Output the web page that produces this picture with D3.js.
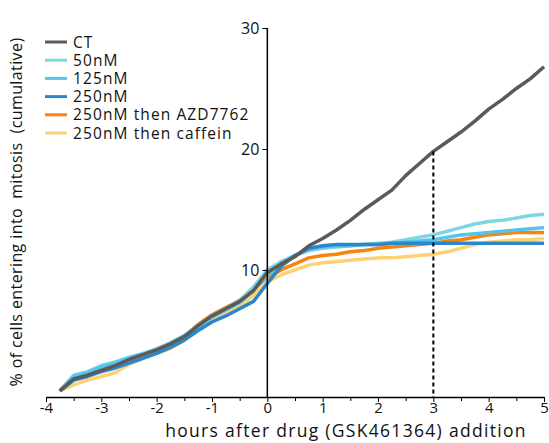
<!DOCTYPE html><html><head><meta charset="utf-8"><script src="https://cdn.jsdelivr.net/npm/d3@7"></script>
<style>body{margin:0;background:#fff}text{font-family:"Open Sans",sans-serif}</style></head><body>
<svg id="c" width="549" height="443"></svg>
<script>
const times=[-3.75,-3.5,-3.25,-3,-2.75,-2.5,-2.25,-2,-1.75,-1.5,-1.25,-1,-0.75,-0.5,-0.25,0,0.25,0.5,0.75,1,1.25,1.5,1.75,2,2.25,2.5,2.75,3,3.25,3.5,3.75,4,4.25,4.5,4.75,5];
const seriesNames=["CT","50nM","125nM","250nM","250nM then AZD7762","250nM then caffein"];
const colors=["#5a5a5a","#7fd6e3","#52c4ee","#2b86cb","#f7840f","#fdd274"];
const ct=[0,1.0,1.3,1.7,2.1,2.6,3.0,3.4,3.9,4.5,5.4,6.2,6.8,7.4,8.3,9.8,10.5,11.1,12.0,12.6,13.3,14.1,15.0,15.8,16.6,17.8,18.8,19.8,20.6,21.4,22.3,23.3,24.1,25.0,25.8,26.8];
const nm50=[0,1.3,1.6,2.1,2.4,2.8,3.1,3.5,4.0,4.6,5.4,6.2,6.8,7.5,8.6,10.0,10.7,11.2,11.6,11.8,11.9,12.0,12.1,12.2,12.3,12.5,12.7,12.9,13.2,13.5,13.8,14.0,14.1,14.3,14.5,14.6];
const nm125=[0,1.2,1.5,2.0,2.3,2.7,3.0,3.4,3.9,4.5,5.3,6.1,6.7,7.3,8.3,9.6,10.5,11.2,11.7,11.9,12.0,12.0,12.1,12.1,12.2,12.3,12.4,12.5,12.7,12.9,13.0,13.1,13.2,13.3,13.4,13.5];
const nm250=[0,0.9,1.2,1.6,1.9,2.3,2.7,3.1,3.6,4.2,5.0,5.7,6.2,6.8,7.4,8.9,10.3,11.2,11.8,12.0,12.1,12.1,12.1,12.1,12.2,12.2,12.2,12.2,12.2,12.2,12.2,12.2,12.2,12.2,12.2,12.2];
const azd=[0,1.0,1.3,1.7,2.2,2.6,3.0,3.4,3.9,4.5,5.5,6.3,6.9,7.5,8.4,9.4,10.0,10.5,11.0,11.2,11.3,11.5,11.6,11.8,11.9,12.0,12.1,12.2,12.4,12.5,12.7,12.9,13.0,13.1,13.1,13.1];
const caf=[0,0.5,0.9,1.2,1.5,2.2,2.7,3.1,3.5,4.2,5.2,5.9,6.4,7.0,7.9,9.0,9.6,10.0,10.4,10.6,10.7,10.8,10.9,11.0,11.0,11.1,11.2,11.3,11.5,11.8,12.1,12.3,12.4,12.5,12.5,12.6];
const xTicks=[-4,-3,-2,-1,0,1,2,3,4,5];
const yTicks=[10,20,30];
const allSeries=[ct,nm50,nm125,nm250,azd,caf];

const svg=d3.select("#c");
const x=d3.scaleLinear().domain([-4,5]).range([46,544]);
const y=d3.scaleLinear().domain([-0.5,30]).range([397,28]);
const line=d3.line().x((d,i)=>x(times[i])).y(d=>y(d)).curve(d3.curveLinear);
[5,4,1,2,3,0].forEach(k=>{
 svg.append("path").datum(allSeries[k]).attr("d",line).attr("fill","none").attr("stroke",colors[k]).attr("stroke-width",3.5).attr("stroke-linejoin","round");
});
svg.append("line").attr("x1",x(3)).attr("x2",x(3)).attr("y1",y(19.8)).attr("y2",y(-0.5)).attr("stroke","#000").attr("stroke-width",2).attr("stroke-dasharray","4,3");
const xa=svg.append("g").attr("transform",`translate(0,${y(-0.5)})`).call(d3.axisBottom(x).tickValues(xTicks).tickSize(5).tickSizeOuter(0).tickFormat(d=>d<0?"-"+(-d):String(d)));
xa.select(".domain").attr("stroke-width",1.5);
xa.selectAll("text").attr("font-size",15).attr("fill","#111").attr("dy","0.55em");
svg.append("g").attr("transform",`translate(0,${y(-0.5)})`).call(d3.axisBottom(x).tickValues(d3.range(-3.5,5,1)).tickSize(4).tickFormat("")).select(".domain").remove();
const ya=svg.append("g").attr("transform",`translate(${x(0)},0)`).call(d3.axisLeft(y).tickValues(yTicks).tickSize(5).tickSizeOuter(0));
ya.select(".domain").attr("stroke-width",1.5).attr("d",`M0,${y(30)}V${y(-0.5)}`);
ya.selectAll("text").attr("font-size",16).attr("fill","#111");
svg.append("text").attr("x",346).attr("y",437).attr("text-anchor","middle").attr("font-size",17.5).attr("letter-spacing",1.3).attr("fill","#111").text("hours after drug (GSK461364) addition");
svg.append("text").attr("transform","translate(22,212) rotate(-90)").attr("text-anchor","middle").attr("font-size",16).attr("letter-spacing",0.4).attr("fill","#111").style("white-space","pre").text("% of cells entering into  mitosis  (cumulative)");
seriesNames.forEach((n,i)=>{
 const yy=42+i*18.2;
 svg.append("line").attr("x1",45).attr("x2",67).attr("y1",yy).attr("y2",yy).attr("stroke",colors[i]).attr("stroke-width",3);
 svg.append("text").attr("x",73).attr("y",yy+5.5).attr("font-size",15.5).attr("letter-spacing",1.1).attr("fill","#111").text(n);
});
</script></body></html>
